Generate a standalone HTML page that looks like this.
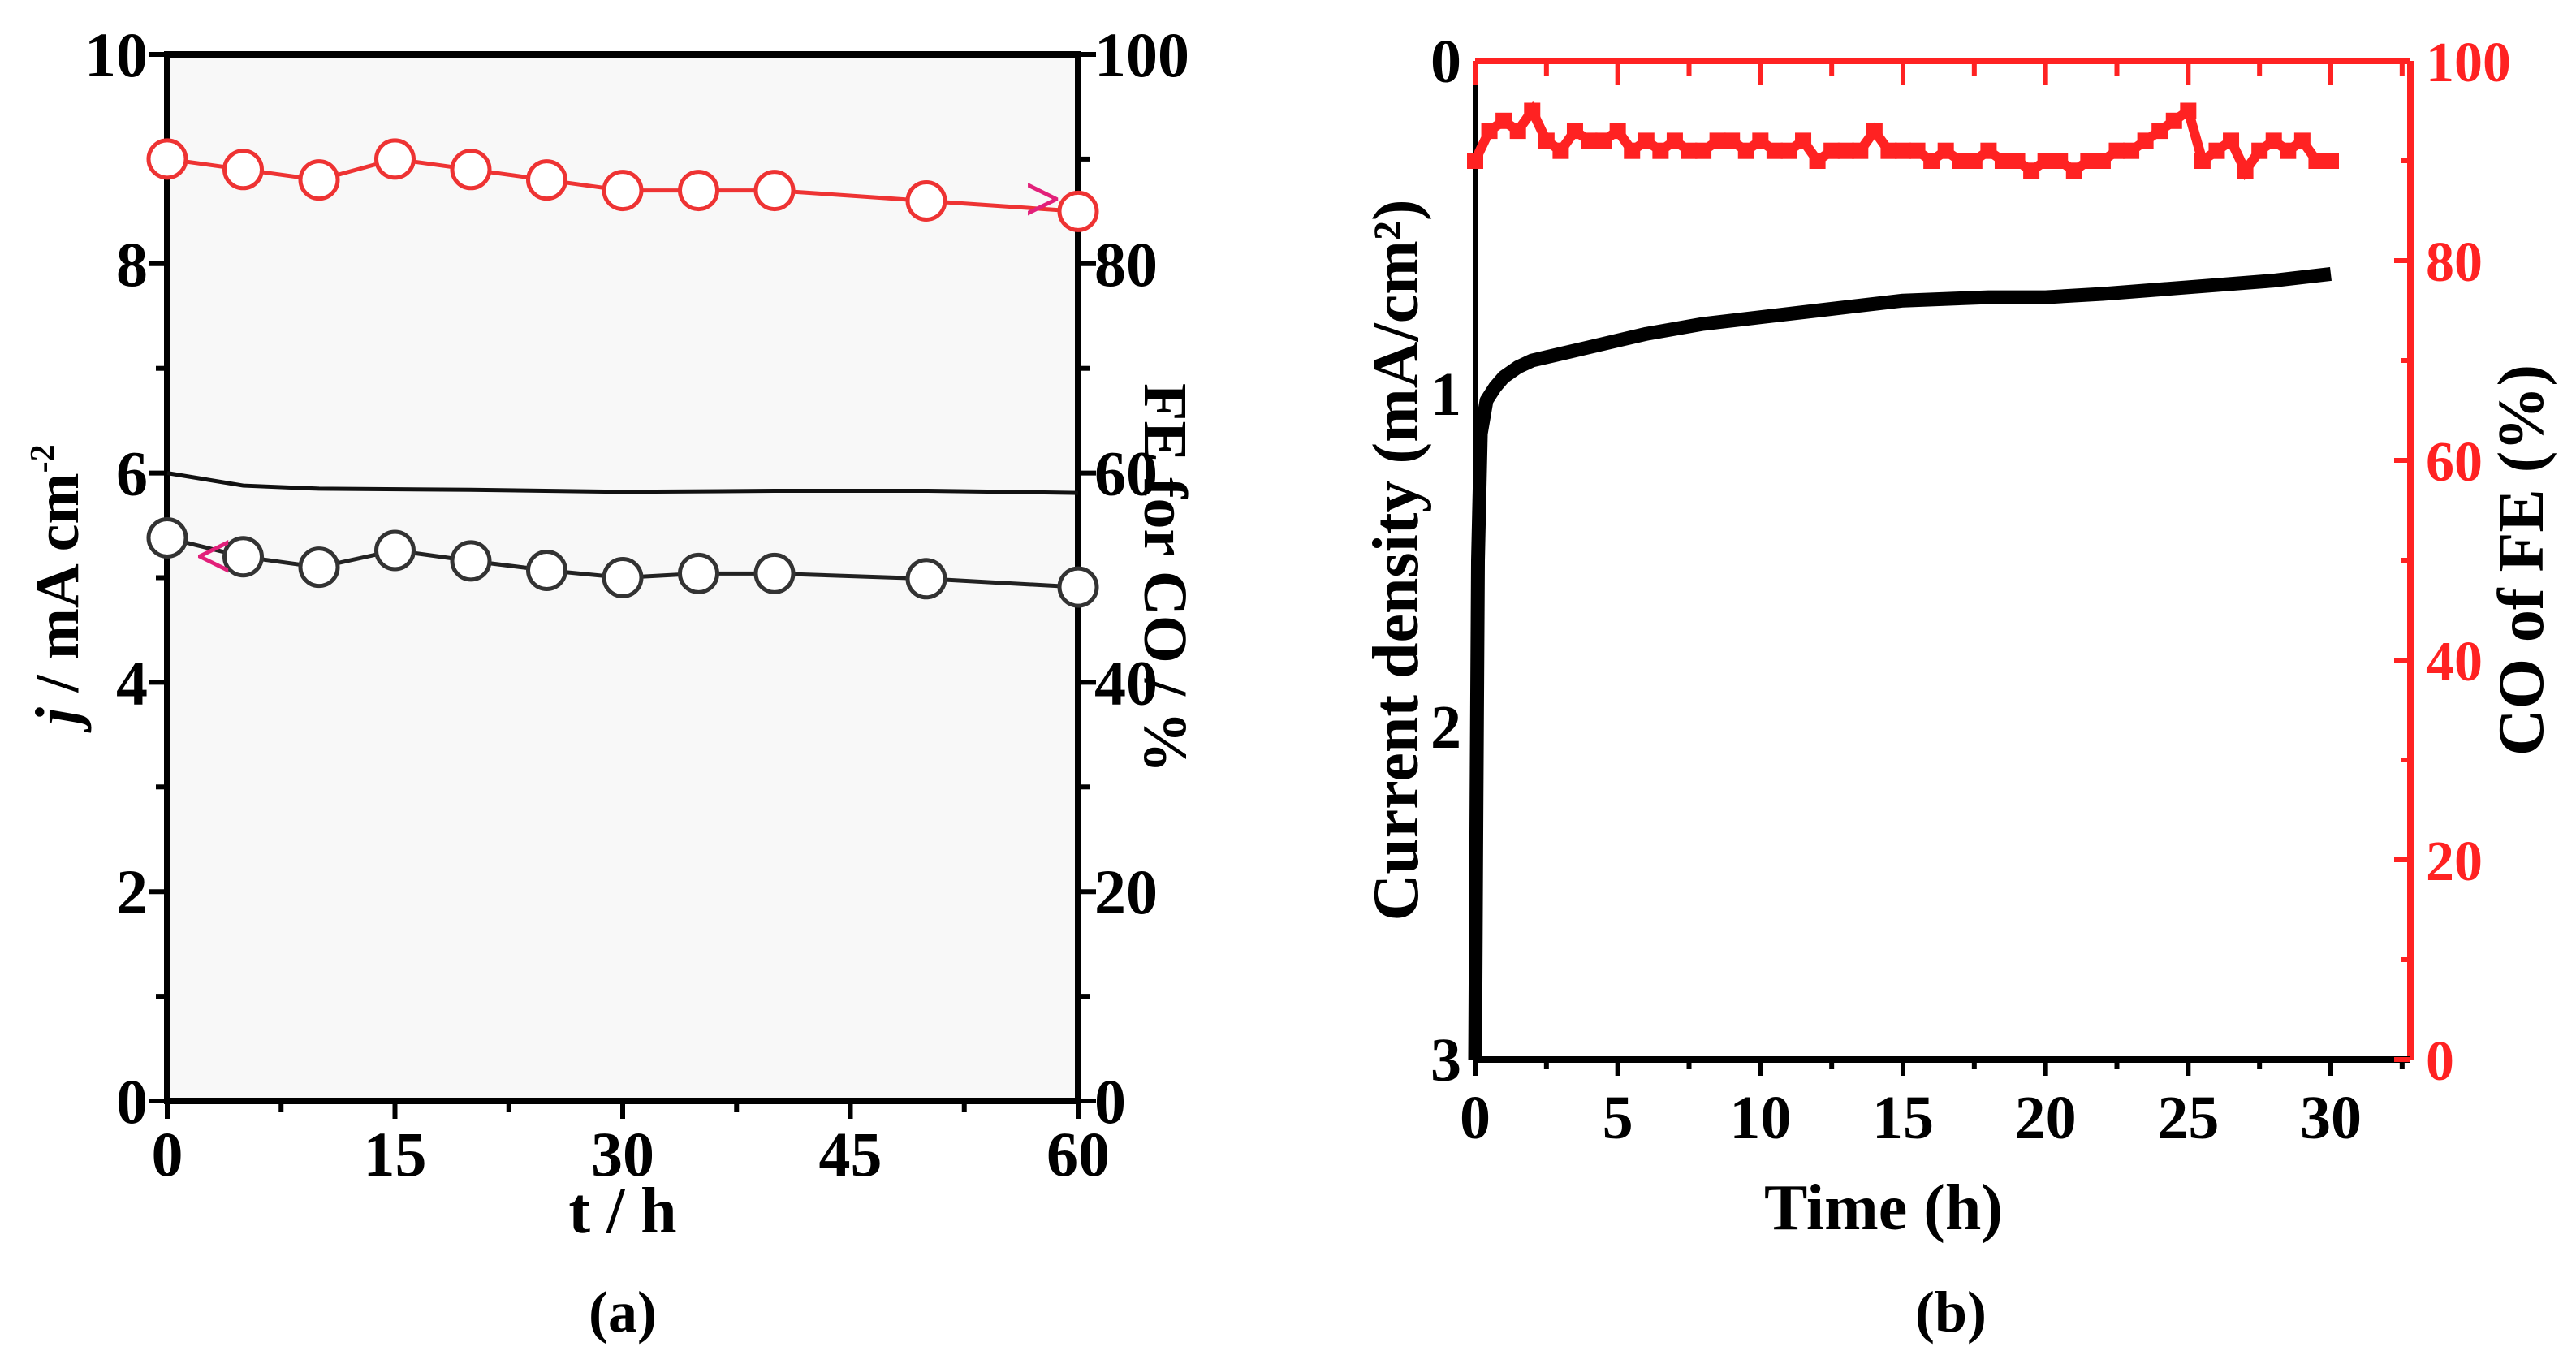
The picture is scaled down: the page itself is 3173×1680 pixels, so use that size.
<!DOCTYPE html>
<html><head><meta charset="utf-8"><style>
html,body{margin:0;padding:0;background:#fff}
svg{display:block}
text{font-family:"Liberation Serif",serif;font-weight:bold}
</style></head><body>
<svg id="c" width="3173" height="1680" viewBox="0 0 3173 1680" xmlns="http://www.w3.org/2000/svg">
<g id="pa"></g>
<g id="pb"></g>
</svg>
<script>
// Panel (a) data
const aTimes=[0,5,10,15,20,25,30,35,40,50,60];
const aFE=[90,89,88,90,89,88,87,87,87,86,85];
const aJ=[5.38,5.2,5.1,5.26,5.16,5.07,5.0,5.04,5.04,4.99,4.91];
const aLineT=[0,5,10,20,30,40,50,60];
const aLineJ=[6.0,5.88,5.85,5.84,5.82,5.83,5.83,5.81];
const aXTicks=[0,15,30,45,60];
const aYTicks=[0,2,4,6,8,10];
const aY2Ticks=[0,20,40,60,80,100];
// Panel (b) data
const bT=[0,0.05,0.1,0.2,0.4,0.7,1,1.5,2,3,4,5,6,8,10,12,15,18,20,22,25,28,30];
const bJ=[3.0,2.2,1.5,1.12,1.02,0.98,0.95,0.92,0.9,0.88,0.86,0.84,0.82,0.79,0.77,0.75,0.72,0.71,0.71,0.7,0.68,0.66,0.64];
const bFE=[90,93,94,93,95,92,91,93,92,92,93,91,92,91,92,91,91,92,92,91,92,91,91,92,90,91,91,91,93,91,91,91,90,91,90,90,91,90,90,89,90,90,89,90,90,91,91,92,93,94,95,90,91,92,89,91,92,91,92,90,90];
const bXTicks=[0,5,10,15,20,25,30];
const bYTicks=[0,1,2,3];
const bY2Ticks=[0,20,40,60,80,100];

const NS="http://www.w3.org/2000/svg";
function mk(p,tag,at,txt){const e=document.createElementNS(NS,tag);for(const k in at)e.setAttribute(k,at[k]);if(txt!==undefined)e.textContent=txt;p.appendChild(e);return e;}

// ---- Panel a
const A=document.getElementById('pa');
const aL=206,aR=1328,aT=67,aB=1356;
const ax=t=>aL+(aR-aL)*t/60, ay=v=>aB-(aB-aT)*v/10, ay2=v=>aB-(aB-aT)*v/100;
let r=mk(A,'rect',{x:aL,y:aT,width:aR-aL,height:aB-aT,fill:'#f8f8f8'});


r=mk(A,'rect',{x:aL,y:aT,width:aR-aL,height:aB-aT,fill:'none',stroke:'#000','stroke-width':8});


for(let t=0;t<=60;t+=7.5){mk(A,'line',{x1:ax(t),x2:ax(t),y1:aB,y2:aB+(t%15==0?22:14),stroke:'#000','stroke-width':6});}
aXTicks.forEach(t=>{const e=mk(A,'text',{x:ax(t),y:1448,'font-size':78,'text-anchor':'middle'},t);

});
for(let v=0;v<=10;v+=1){mk(A,'line',{x1:aL,x2:aL-(v%2==0?22:14),y1:ay(v),y2:ay(v),stroke:'#000','stroke-width':6});mk(A,'line',{x1:aR,x2:aR+(v%2==0?22:14),y1:ay(v),y2:ay(v),stroke:'#000','stroke-width':6});}
aYTicks.forEach(v=>{const e=mk(A,'text',{x:182,y:ay(v)+27,'font-size':78,'text-anchor':'end'},v);

});
aY2Ticks.forEach(v=>{const e=mk(A,'text',{x:1348,y:ay2(v)+27,'font-size':78,'text-anchor':'start'},v);

});
let e=mk(A,'text',{x:ax(30),y:1518,'font-size':80,'text-anchor':'middle'},'t / h');


e=mk(A,'text',{x:0,y:0,'font-size':76,'text-anchor':'middle',transform:'translate(96,720) rotate(-90)'});
e.innerHTML='<tspan font-style="italic">j</tspan> / mA cm<tspan dy="-30" font-size="42">-2</tspan>';


e=mk(A,'text',{x:0,y:0,'font-size':76,'text-anchor':'middle',transform:'translate(1410,712) rotate(90)'},'FE for CO / %');


e=mk(A,'polyline',{points:aLineT.map((t,i)=>ax(t)+','+ay(aLineJ[i])).join(' '),fill:'none',stroke:'#111','stroke-width':5});


e=mk(A,'polyline',{points:aTimes.map((t,i)=>ax(t)+','+ay2(aFE[i])).join(' '),fill:'none',stroke:'#e33','stroke-width':5});


e=mk(A,'polyline',{points:aTimes.map((t,i)=>ax(t)+','+ay(aJ[i])).join(' '),fill:'none',stroke:'#222','stroke-width':5});


aTimes.forEach((t,i)=>{let c=mk(A,'circle',{cx:ax(t),cy:ay2(aFE[i]),r:23,fill:'#fff',stroke:'#e33','stroke-width':5});


c=mk(A,'circle',{cx:ax(t),cy:ay(aJ[i]),r:23,fill:'#fff',stroke:'#333','stroke-width':5});

});
e=mk(A,'text',{x:240,y:712,'font-size':80,fill:'#e2207a','font-family':'Liberation Sans'},'<');


e=mk(A,'text',{x:1262,y:272,'font-size':80,fill:'#e2207a','font-family':'Liberation Sans'},'>');


e=mk(A,'text',{x:767,y:1640,'font-size':72,'text-anchor':'middle','font-weight':'normal'});
e.innerHTML='(<tspan font-weight="bold">a</tspan>)';



// ---- Panel b
const B=document.getElementById('pb');
const bL=1817,bR=2969,bTp=75,bBt=1305,bX30=2871;
const bx=t=>bL+(bX30-bL)*t/30, by=v=>bTp+(bBt-bTp)*v/3, by2=v=>bBt-(bBt-bTp)*v/100;
mk(B,'line',{x1:bL,x2:bR,y1:bTp,y2:bTp,stroke:'#f22','stroke-width':8});
mk(B,'line',{x1:bR,x2:bR,y1:bTp,y2:bBt,stroke:'#f22','stroke-width':8});
mk(B,'line',{x1:bL,x2:bR,y1:bBt,y2:bBt,stroke:'#000','stroke-width':8});
mk(B,'line',{x1:bL,x2:bL,y1:bTp,y2:bBt,stroke:'#000','stroke-width':6});
for(let t=0;t<=32.5;t+=2.5){mk(B,'line',{x1:bx(t),x2:bx(t),y1:bBt,y2:bBt+(t%5==0?20:12),stroke:'#000','stroke-width':6});mk(B,'line',{x1:bx(t),x2:bx(t),y1:bTp,y2:bTp+(t%5==0?30:18),stroke:'#f22','stroke-width':6});}
bXTicks.forEach(t=>{const q=mk(B,'text',{x:bx(t),y:1402,'font-size':76,'text-anchor':'middle'},t);

});
bYTicks.forEach(v=>{const q=mk(B,'text',{x:1800,y:by(v)+26,'font-size':76,'text-anchor':'end'},v);

});
for(let v=0;v<=100;v+=10){mk(B,'line',{x1:bR,x2:bR-(v%20==0?20:12),y1:by2(v),y2:by2(v),stroke:'#f22','stroke-width':6});}
bY2Ticks.forEach(v=>{const q=mk(B,'text',{x:2988,y:by2(v)+25,'font-size':70,'text-anchor':'start',fill:'#f22','font-family':'Liberation Sans','font-weight':'normal'},v);

});
e=mk(B,'text',{x:2320,y:1514,'font-size':80,'text-anchor':'middle'},'Time (h)');


e=mk(B,'text',{x:0,y:0,'font-size':80,'text-anchor':'middle',transform:'translate(1746,690) rotate(-90)'},'Current density (mA/cm²)');


e=mk(B,'text',{x:0,y:0,'font-size':80,'text-anchor':'middle',transform:'translate(3132,690) rotate(-90)'},'CO of FE (%)');


e=mk(B,'polyline',{points:bT.map((t,i)=>bx(t)+','+by(bJ[i])).join(' '),fill:'none',stroke:'#000','stroke-width':17,'stroke-linejoin':'round'});


bFE.forEach((v,i)=>{const t=i*0.5;const q=mk(B,'rect',{x:bx(t)-10,y:by2(v)-10,width:20,height:20,fill:'#f22'});

});
e=mk(B,'polyline',{points:bFE.map((v,i)=>bx(i*0.5)+','+by2(v)).join(' '),fill:'none',stroke:'#f22','stroke-width':12});


e=mk(B,'text',{x:2403,y:1640,'font-size':72,'text-anchor':'middle','font-weight':'normal'});
e.innerHTML='(<tspan font-weight="bold">b</tspan>)';


</script>
</body></html>
